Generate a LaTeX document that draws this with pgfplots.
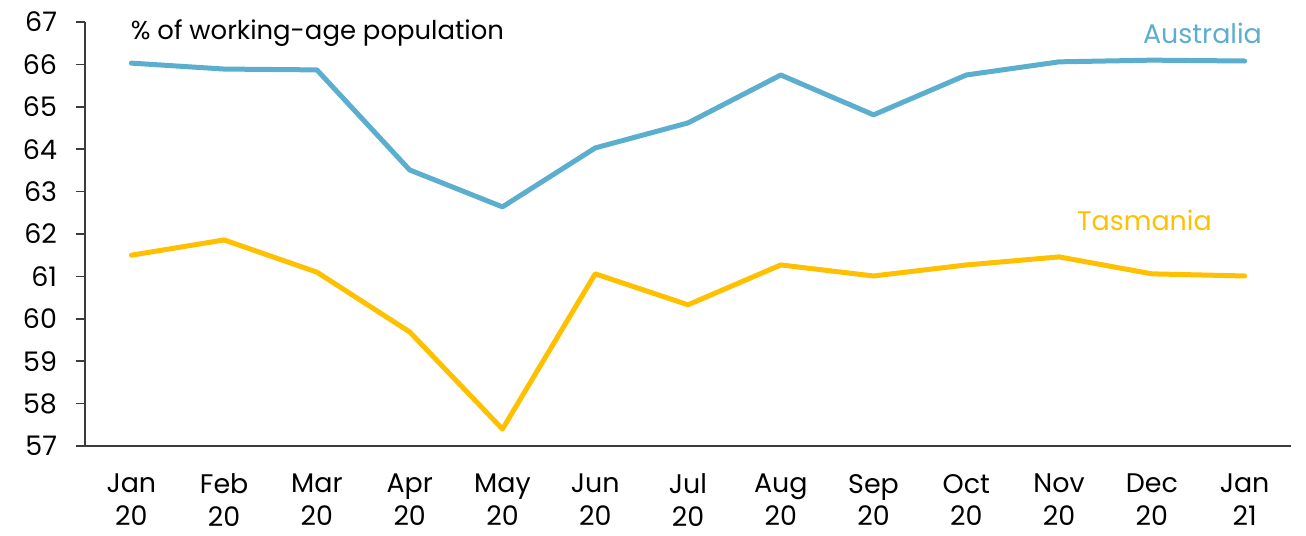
\documentclass[border=0pt]{standalone}
\usepackage{fontspec}
\setmainfont{Poppins}
\usepackage{pgfplots}
\pgfplotsset{compat=1.18}
\definecolor{aus}{RGB}{91,174,206}
\definecolor{tas}{RGB}{255,192,0}
\definecolor{axgray}{RGB}{60,60,60}
\begin{document}
\begin{tikzpicture}
\begin{axis}[
  name=ax,
  at={(0,0)}, anchor=south west,
  scale only axis,
  width=603bp, height=212bp,
  xmin=-0.5, xmax=12.5,
  ymin=57, ymax=67,
  ytick={57,58,...,67},
  xtick={0,...,12},
  xticklabels={{Jan\\20},{Feb\\20},{Mar\\20},{Apr\\20},{May\\20},{Jun\\20},{Jul\\20},{Aug\\20},{Sep\\20},{Oct\\20},{Nov\\20},{Dec\\20},{Jan\\21}},
  minor xtick={-0.5,0.5,...,12.5},
  axis x line=bottom, axis y line=left,
  axis line style={-, axgray, line width=0.75bp},
  tick align=outside,
  major tick length=4.5bp, minor tick length=4bp,
  xtick style={draw=none},
  minor x tick style={axgray, line width=0.75bp},
  ytick style={axgray, line width=0.75bp},
  tick label style={font=\fontsize{13.5}{16.5}\selectfont, text=black},
  xticklabel style={align=center, yshift=-6bp},
  yticklabel style={xshift=-6bp},
  /pgf/number format/assume math mode=true,
  clip=false,
]
\addplot[aus, line width=2.5bp, line join=round, line cap=round] coordinates {
(0,66.03) (1,65.89) (2,65.87) (3,63.51) (4,62.64) (5,64.03) (6,64.62) (7,65.75) (8,64.81) (9,65.75) (10,66.06) (11,66.10) (12,66.08)};
\addplot[tas, line width=2.5bp, line join=round, line cap=round] coordinates {
(0,61.50) (1,61.86) (2,61.10) (3,59.69) (4,57.40) (5,61.06) (6,60.33) (7,61.27) (8,61.01) (9,61.27) (10,61.46) (11,61.06) (12,61.01)};
\node[anchor=west, inner sep=0pt, font=\fontsize{13}{17}\selectfont] at (axis cs:-0.01,66.74) {\% of working-age population};
\node[anchor=east, inner sep=0pt, text=aus, font=\fontsize{13.5}{17}\selectfont] at (axis cs:12.19,66.72) {Australia};
\node[anchor=east, inner sep=0pt, text=tas, font=\fontsize{13.5}{17}\selectfont] at (axis cs:11.65,62.33) {Tasmania};
\end{axis}
\pgfresetboundingbox
\path[use as bounding box] (-42.5bp,-45bp) rectangle (610.5bp,223bp);
\end{tikzpicture}
\end{document}
